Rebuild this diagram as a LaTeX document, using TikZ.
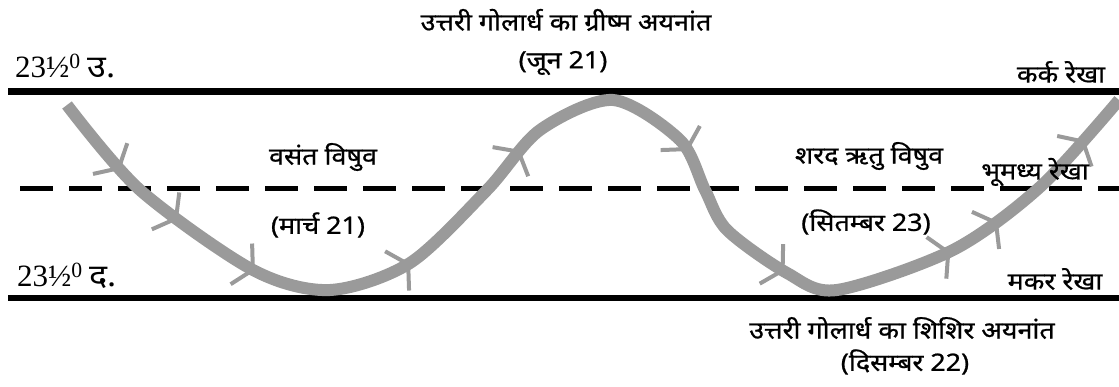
\documentclass[tikz,border=0pt]{standalone}
\usepackage{fontspec}
\setmainfont{Liberation Serif}
\newfontfamily\dev[Script=Devanagari, FakeStretch=1.12, FakeBold=0.8]{Noto Sans}
\newfontfamily\devlat[Script=Devanagari, FakeStretch=1.1]{Noto Sans}
\usetikzlibrary{decorations.markings}
\definecolor{wavecol}{HTML}{9A9A9A}
\newcommand\chevmark{\draw[line width=4pt, wavecol, line cap=butt] (-13pt,23pt) -- (0,0) -- (-13pt,-23pt);}
\tikzset{
  tropic/.style={line width=6.5pt, line cap=butt},
  equator/.style={line width=5pt, dash pattern=on 33pt off 16pt},
  wave/.style={line width=12pt, wavecol, line cap=butt},
  hlabel/.style={font=\dev\fontsize{24}{28}\selectfont, inner sep=0pt},
  latlabel/.style={font=\fontsize{31}{33}\selectfont, inner sep=0pt, anchor=base west},
}
\begin{document}
\begin{tikzpicture}[x=1pt,y=-1pt]
\useasboundingbox (0,0) rectangle (1119,387);
% lines
\coordinate (cL) at (8,91.5);  \coordinate (cR) at (1119,91.5);
\coordinate (kL) at (8,298);   \coordinate (kR) at (1119,298);
\coordinate (eL) at (20,189);  \coordinate (eR) at (1119,189);
\draw[tropic] (cL) -- (cR);
\draw[tropic] (kL) -- (kR);
\draw[equator] (eL) -- (eR);
% sun path
\draw[wave, postaction={decorate}, decoration={markings,
   mark=at position 0.061 with {\chevmark},
   mark=at position 0.118 with {\chevmark},
   mark=at position 0.187 with {\chevmark},
   mark=at position 0.309 with {\chevmark},
   mark=at position 0.427 with {\chevmark},
   mark=at position 0.577 with {\chevmark},
   mark=at position 0.696 with {\chevmark},
   mark=at position 0.828 with {\chevmark},
   mark=at position 0.870 with {\chevmark},
   mark=at position 0.959 with {\chevmark}}]
  plot[smooth] coordinates {(67,105) (140,190) (253,270) (330,290) (410,263) (487,190) (540,130) (613,100) (680,140) (705,190) (727,230) (787,273) (837,290) (953,250) (1040,187) (1119,100)};
% labels
\node[hlabel] (t1) at (566,20) {उत्तरी गोलार्ध का ग्रीष्म अयनांत};
\node[hlabel] (t2) at (563,63) {(जून 21)};
\node[latlabel] (n) at (15,78) {23½\textsuperscript{0}\hspace{7pt}{\devlat उ.}};
\node[latlabel] (s) at (17,287) {23½\textsuperscript{0}\hspace{7pt}{\devlat द.}};
\node[hlabel] (kark) at (1061,72) {कर्क रेखा};
\node[hlabel] (v1) at (323,157) {वसंत विषुव};
\node[hlabel] (v2) at (318,225) {(मार्च 21)};
\node[hlabel] (s1) at (869,156) {शरद ऋतु विषुव};
\node[hlabel] (s2) at (866,222) {(सितम्बर 23)};
\node[hlabel] (eq) at (1035,172) {भूमध्य रेखा};
\node[hlabel] (makar) at (1055,279) {मकर रेखा};
\node[hlabel] (w1) at (902,328) {उत्तरी गोलार्ध का शिशिर अयनांत};
\node[hlabel] (w2) at (905,362) {(दिसम्बर 22)};
\end{tikzpicture}
\end{document}
